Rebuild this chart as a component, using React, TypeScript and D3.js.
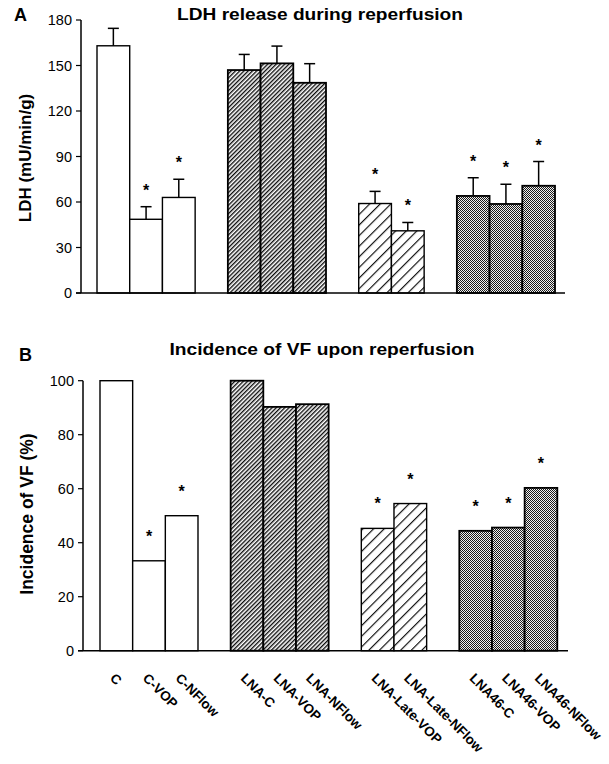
import React from 'react';
import * as d3 from 'd3';

// Groups of treatments; a blank slot separates the groups
const groupNames = ['control', 'lna', 'lnaLate', 'lna46'];
const categories = [
  'C', 'C-VOP', 'C-NFlow',
  'LNA-C', 'LNA-VOP', 'LNA-NFlow',
  'LNA-Late-VOP', 'LNA-Late-NFlow',
  'LNA46-C', 'LNA46-VOP', 'LNA46-NFlow',
];
const categoryGroup = [0, 0, 0, 1, 1, 1, 2, 2, 3, 3, 3];

// Panel A: LDH release (mU/min/g), mean and upper error
const ldhValues = [163, 48.6, 63, 147, 151.4, 138.6, 59, 41, 64, 58.7, 70.7];
const ldhErrors = [11.5, 8.3, 12, 10.3, 11.4, 12.6, 8, 5.5, 12, 13, 16];
const ldhSignificant = [false, true, true, false, false, false, true, true, true, true, true];
const ldhTicks = [0, 30, 60, 90, 120, 150, 180];

// Panel B: incidence of VF (%)
const vfValues = [100, 33.3, 50, 100, 90.3, 91.3, 45.3, 54.5, 44.4, 45.6, 60.3];
const vfSignificant = [false, true, true, false, false, false, true, true, true, true, true];
const vfTicks = [0, 20, 40, 60, 80, 100];

const FONT = 'Arial, "Liberation Sans", Helvetica, sans-serif';

// slot keys: each group followed by one empty slot (last group has none)
const slotKeys: string[] = [];
groupNames.forEach((g, gi) => {
  categories.forEach((c, i) => {
    if (categoryGroup[i] === gi) slotKeys.push(c);
  });
  if (gi < groupNames.length - 1) slotKeys.push('gap-' + g);
});

const fills = ['#fff', 'url(#hatchDense)', 'url(#hatchSparse)', 'url(#checker)'];

type PanelProps = {
  values: number[];
  errors?: number[];
  significant: boolean[];
  ticks: number[];
  yMax: number;
  axisX: number;
  barStart: number;
  barEnd: number;
  yTop: number;
  yBottom: number;
  baselineEnd: number;
  starOffset: number;
};

function Panel(p: PanelProps) {
  const x = d3.scaleBand<string>().domain(slotKeys).range([p.barStart, p.barEnd]).padding(0);
  const y = d3.scaleLinear().domain([0, p.yMax]).range([p.yBottom, p.yTop]);
  const bw = x.bandwidth();

  return (
    <g>
      {categories.map((c, i) => {
        const x0 = x(c) as number;
        const v = p.values[i];
        const g = categoryGroup[i];
        return (
          <rect key={c} x={x0} y={y(v)} width={bw} height={y(0) - y(v)}
            fill={fills[g]} stroke="#000" strokeWidth={g === 1 || g === 3 ? 1.8 : 1.4} />
        );
      })}
      {p.errors && categories.map((c, i) => {
        const cx = (x(c) as number) + bw / 2;
        const v = p.values[i];
        const top = y(v + p.errors![i]);
        return (
          <g key={'e' + c} stroke="#000" strokeWidth={1.5}>
            <line x1={cx} x2={cx} y1={y(v)} y2={top} />
            <line x1={cx - 5.5} x2={cx + 5.5} y1={top} y2={top} />
          </g>
        );
      })}
      {categories.map((c, i) => {
        if (!p.significant[i]) return null;
        const cx = (x(c) as number) + bw / 2;
        const top = y(p.values[i] + (p.errors ? p.errors[i] : 0));
        return (
          <text key={'s' + c} x={cx} y={top - p.starOffset} textAnchor="middle"
            fontFamily={FONT} fontSize={16} fontWeight="bold" fill="#000">*</text>
        );
      })}
      {/* axes */}
      <line x1={p.axisX} x2={p.axisX} y1={p.yTop} y2={p.yBottom} stroke="#000" strokeWidth={1.5} />
      <line x1={p.axisX - 5} x2={p.baselineEnd} y1={p.yBottom} y2={p.yBottom} stroke="#000" strokeWidth={1.5} />
      {p.ticks.map((t) => (
        <g key={'t' + t}>
          <line x1={p.axisX - 5} x2={p.axisX} y1={y(t)} y2={y(t)} stroke="#000" strokeWidth={1.2} />
          <text x={p.axisX - 9} y={y(t)} dy="0.36em" textAnchor="end"
            fontFamily={FONT} fontSize={14.5} fill="#000">{t}</text>
        </g>
      ))}
    </g>
  );
}

export default function App() {
  const xLabel = d3.scaleBand<string>().domain(slotKeys).range([100, 557.3]).padding(0);
  const lbw = xLabel.bandwidth();

  return (
    <svg width={609} height={764} style={{ position: 'absolute', left: 0, top: 0, background: '#fff' }}>
      <defs>
        <pattern id="hatchDense" patternUnits="userSpaceOnUse" width={3} height={3}
          patternTransform="rotate(45)">
          <rect width={3} height={3} fill="#fff" />
          <line x1={0.7} x2={0.7} y1={0} y2={3} stroke="#000" strokeWidth={1.3} />
        </pattern>
        <pattern id="hatchSparse" patternUnits="userSpaceOnUse" width={7.5} height={7.5}
          patternTransform="rotate(45)">
          <rect width={7.5} height={7.5} fill="#fff" />
          <line x1={0.6} x2={0.6} y1={0} y2={7.5} stroke="#000" strokeWidth={1.1} />
        </pattern>
        <pattern id="checker" patternUnits="userSpaceOnUse" width={2} height={2}>
          <rect width={2} height={2} fill="#f0f0f0" />
          <rect width={1} height={1} fill="#1a1a1a" />
          <rect x={1} y={1} width={1} height={1} fill="#1a1a1a" />
        </pattern>
      </defs>

      {/* Panel A */}
      <text x={14} y={21} fontFamily={FONT} fontSize={18} fontWeight="bold">A</text>
      <text x={320} y={20} textAnchor="middle" fontFamily={FONT} fontSize={17} fontWeight="bold"
        textLength={286} lengthAdjust="spacingAndGlyphs">LDH release during reperfusion</text>
      <text transform="translate(31,158) rotate(-90)" textAnchor="middle" fontFamily={FONT}
        fontSize={17} fontWeight="bold">LDH (mU/min/g)</text>
      <Panel values={ldhValues} errors={ldhErrors} significant={ldhSignificant} ticks={ldhTicks}
        yMax={180} axisX={81} barStart={97} barEnd={555} yTop={20} yBottom={293}
        baselineEnd={565} starOffset={11} />

      {/* Panel B */}
      <text x={19} y={361} fontFamily={FONT} fontSize={18} fontWeight="bold">B</text>
      <text x={322} y={355} textAnchor="middle" fontFamily={FONT} fontSize={17} fontWeight="bold"
        textLength={305} lengthAdjust="spacingAndGlyphs">Incidence of VF upon reperfusion</text>
      <text transform="translate(33,514) rotate(-90)" textAnchor="middle" fontFamily={FONT}
        fontSize={17.5} fontWeight="bold">Incidence of VF (%)</text>
      <Panel values={vfValues} significant={vfSignificant} ticks={vfTicks}
        yMax={100} axisX={83} barStart={100} barEnd={557.3} yTop={380.7} yBottom={650.7}
        baselineEnd={568} starOffset={19} />

      {/* category labels */}
      {categories.map((c) => {
        const cx = (xLabel(c) as number) + lbw / 2;
        return (
          <text key={'l' + c} transform={`translate(${cx - 7},679) rotate(45)`}
            fontFamily={FONT} fontSize={13.5} fontWeight="bold" fill="#000">{c}</text>
        );
      })}
    </svg>
  );
}
